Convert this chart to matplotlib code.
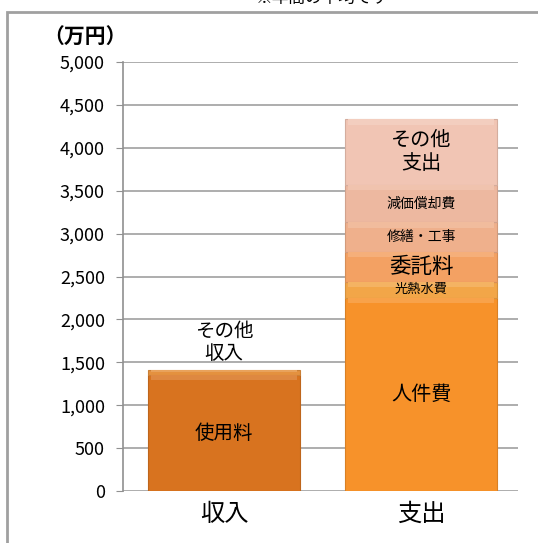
import matplotlib.pyplot as plt
import matplotlib.colors as mcolors
from matplotlib.patches import Rectangle

plt.rcParams['font.family'] = ['Noto Sans CJK JP', 'DejaVu Sans']

categories = ['収入', '支出']

# 収入 (万円)
income_labels = ['使用料', 'その他\n収入']
income_values = [1350, 60]
income_colors = ['#D8731F', '#E4913F']

# 支出 (万円)
expense_labels = ['人件費', '光熱水費', '委託料', '修繕・工事', '減価償却費', 'その他\n支出']
expense_values = [2250, 190, 350, 340, 440, 760]
expense_colors = ['#F7922A', '#F2A648', '#F3A163', '#EFB08C', '#EDB8A0', '#F1C5B4']
expense_sizes = [14.5, 9.5, 15.5, 10, 10, 14.5]

fig = plt.figure(figsize=(5.38, 5.43), dpi=100)
ax = fig.add_axes([123 / 538, 52 / 543, 395 / 538, 429 / 543])

width = 0.77


def lighten(c, f):
    r, g, b = mcolors.to_rgb(c)
    return (r + (1 - r) * f, g + (1 - g) * f, b + (1 - b) * f)


def darken(c, f):
    r, g, b = mcolors.to_rgb(c)
    return (r * (1 - f), g * (1 - f), b * (1 - f))


def segment(x, b, v, c):
    # main body plus a soft light band on top (bevel look)
    ax.bar(x, v, width, bottom=b, color=c, edgecolor=darken(c, 0.12),
           linewidth=0.8, zorder=3)
    h = min(60, v * 0.3)
    ax.bar(x, h, width * 0.96, bottom=b + v - h, color=lighten(c, 0.15),
           linewidth=0, zorder=4)


# outer frame
fig.patches.append(Rectangle((7 / 538, -0.1), 1.2, (531 / 543) + 0.1,
                             transform=fig.transFigure, fill=False,
                             edgecolor='#A0A0A0', linewidth=2))

bottom = 0
for v, c in zip(income_values, income_colors):
    segment(0, bottom, v, c)
    bottom += v
ax.text(0, income_values[0] / 2, income_labels[0], ha='center', va='center',
        fontsize=14, zorder=5)
ax.text(0, sum(income_values) + 320, income_labels[1], ha='center', va='center',
        fontsize=14, linespacing=1.1, zorder=5)

bottom = 0
for lab, v, c, s in zip(expense_labels, expense_values, expense_colors, expense_sizes):
    segment(1, bottom, v, c)
    ax.text(1, bottom + v / 2, lab, ha='center', va='center', fontsize=s,
            linespacing=1.15, zorder=5)
    bottom += v

ax.set_ylim(0, 5000)
ax.set_xlim(-0.513, 1.492)
ax.set_yticks(range(0, 5001, 500))
ax.set_yticklabels([f'{t:,}' for t in range(0, 5001, 500)], fontsize=13)
ax.set_xticks([0, 1])
ax.set_xticklabels(categories, fontsize=17.5)
ax.tick_params(axis='x', length=0, pad=7)
ax.tick_params(axis='y', length=5, color='#909090', pad=8)
ax.yaxis.grid(True, color='#A0A0A0', linewidth=1.2, zorder=0)
ax.set_axisbelow(True)
for sp in ['top', 'right', 'bottom']:
    ax.spines[sp].set_visible(False)
ax.spines['left'].set_color('#909090')
ax.spines['left'].set_linewidth(1.2)

fig.text(85 / 538, 1 - 37 / 543, '（万円）', ha='center', va='center',
         fontsize=15, fontweight='bold')
fig.text(322 / 538, 1.003, '※年間の平均です', ha='center', va='center', fontsize=12)

fig.savefig('out.png', dpi=100)
